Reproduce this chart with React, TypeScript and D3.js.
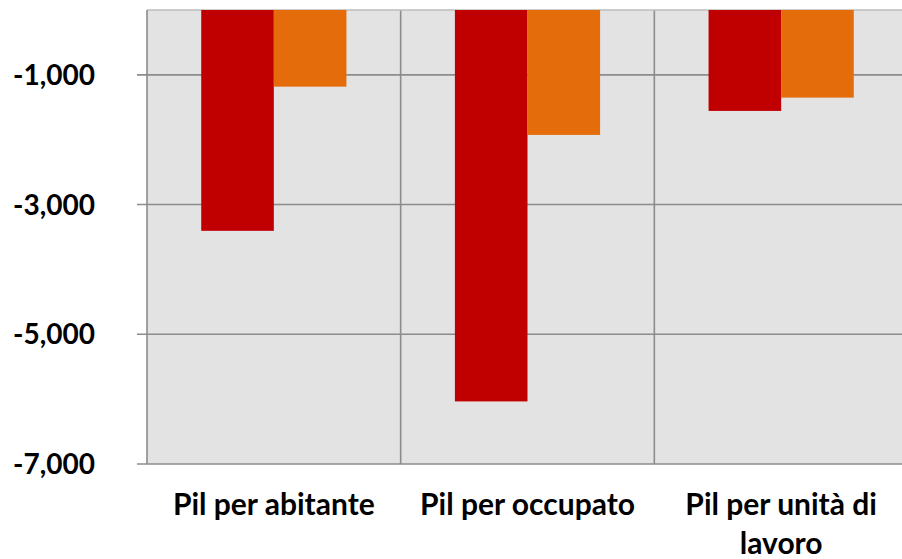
import React, { useEffect, useRef } from "react";
import * as d3 from "d3";

const categories = ["Pil per abitante", "Pil per occupato", "Pil per unità di lavoro"];
const categoryLines = [["Pil per abitante"], ["Pil per occupato"], ["Pil per unità di", "lavoro"]];
const seriesKeys = ["s1", "s2"];
const series1 = [-3405, -6035, -1556];
const series2 = [-1182, -1926, -1351];
const yTicks = [-1000, -3000, -5000, -7000];
const colors = ["#c00000", "#e46c0a"];

const FONT = "Lato, 'Liberation Sans', Arial, sans-serif";

const App = () => {
  const ref = useRef<SVGSVGElement>(null);

  useEffect(() => {
    const svg = d3.select(ref.current);
    svg.selectAll("*").remove();

    const W = 902, H = 559;
    const margin = { top: 10, left: 147 };
    const plotW = 761, plotH = 454;

    svg.attr("width", W).attr("height", H);
    const g = svg.append("g").attr("transform", `translate(${margin.left},${margin.top})`);

    const x0 = d3.scaleBand().domain(categories).range([0, plotW]).padding(0);
    const x1 = d3.scaleBand().domain(seriesKeys).range([0, x0.bandwidth()]).paddingInner(0).paddingOuter(0.747);
    const y = d3.scaleLinear().domain([-7000, 0]).range([plotH, 0]);

    g.append("rect").attr("width", plotW).attr("height", plotH).attr("fill", "#e3e3e3");

    // horizontal gridlines
    g.selectAll("line.hgrid")
      .data(yTicks)
      .join("line")
      .attr("class", "hgrid")
      .attr("x1", -10)
      .attr("x2", plotW)
      .attr("y1", (d) => y(d))
      .attr("y2", (d) => y(d))
      .attr("stroke", "#8c8c8c")
      .attr("stroke-width", 1.6);

    // vertical gridlines at category boundaries
    g.selectAll("line.vgrid")
      .data(categories)
      .join("line")
      .attr("class", "vgrid")
      .attr("x1", (d) => x0(d)! + x0.bandwidth())
      .attr("x2", (d) => x0(d)! + x0.bandwidth())
      .attr("y1", 0)
      .attr("y2", plotH)
      .attr("stroke", "#8c8c8c")
      .attr("stroke-width", 1.6);

    // top border
    g.append("line")
      .attr("x1", 0).attr("x2", plotW)
      .attr("y1", y(0)).attr("y2", y(0))
      .attr("stroke", "#bdbdbd")
      .attr("stroke-width", 1.6);

    const rows = categories.map((c, i) => ({ cat: c, vals: [series1[i], series2[i]] }));

    rows.forEach((row) => {
      g.selectAll(null)
        .data(row.vals)
        .join("rect")
        .attr("x", (d, j) => x0(row.cat)! + x1(seriesKeys[j])!)
        .attr("y", y(0))
        .attr("width", x1.bandwidth())
        .attr("height", (d) => y(d) - y(0))
        .attr("fill", (d, j) => colors[j]);
    });

    // y axis line
    g.append("line")
      .attr("x1", 0).attr("x2", 0)
      .attr("y1", 0).attr("y2", plotH)
      .attr("stroke", "#8c8c8c")
      .attr("stroke-width", 1.6);

    g.selectAll("text.ytick")
      .data(yTicks)
      .join("text")
      .attr("class", "ytick")
      .attr("x", -52)
      .attr("y", (d) => y(d))
      .attr("dy", "0.36em")
      .attr("text-anchor", "end")
      .attr("font-family", FONT)
      .attr("font-weight", "bold")
      .attr("font-size", "28px")
      .attr("fill", "#000")
      .text((d) => d3.format(",")(d).replace("−", "-"));

    categories.forEach((c, i) => {
      const t = g.append("text")
        .attr("x", x0(c)! + x0.bandwidth() / 2)
        .attr("y", plotH + 51)
        .attr("text-anchor", "middle")
        .attr("font-family", FONT)
        .attr("font-weight", "bold")
        .attr("font-size", "30px")
        .attr("fill", "#000");
      categoryLines[i].forEach((line, k) => {
        t.append("tspan")
          .attr("x", x0(c)! + x0.bandwidth() / 2)
          .attr("dy", k === 0 ? 0 : 39)
          .text(line);
      });
    });
  }, []);

  return <svg ref={ref} style={{ position: "absolute", left: 0, top: 0 }} />;
};

export default App;
